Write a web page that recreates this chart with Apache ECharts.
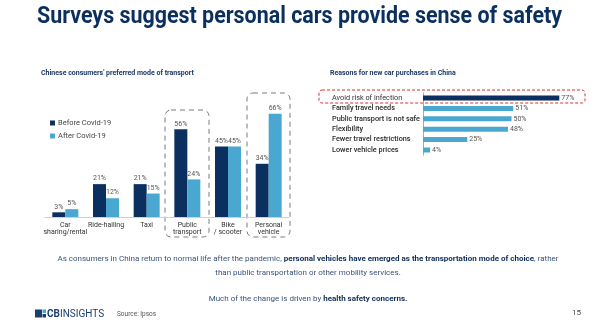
<!DOCTYPE html>
<html><head><meta charset="utf-8">
<script src="https://cdn.jsdelivr.net/npm/echarts@6/dist/echarts.min.js"></script>
<style>html,body{margin:0;padding:0;background:#fff}#c{width:600px;height:328px}</style>
</head><body><div id="c"></div>
<script>
const modeCategories = ['Car\nsharing/rental','Ride-hailing','Taxi','Public\ntransport','Bike\n/ scooter','Personal\nvehicle'];
const beforeCovid = [3, 21, 21, 56, 45, 34];
const afterCovid = [5, 12, 15, 24, 45, 66];
const reasonCategories = ['Avoid risk of infection','Family travel needs','Public transport is not safe','Flexibility','Fewer travel restrictions','Lower vehicle prices'];
const reasonValues = [77, 51, 50, 48, 25, 4];

const NAVY = '#0b2f5e', LIGHT = '#4aa8d0';
const FONT = 'Roboto';
const chart = echarts.init(document.getElementById('c'), null, {renderer:'canvas'});

const titleText = 'Surveys suggest personal cars provide sense of safety';
const cv = document.createElement('canvas').getContext('2d');
cv.font = 'bold 23px Roboto';
const titleScale = 525 / cv.measureText(titleText).width;

chart.setOption({
  animation: false,
  textStyle: {fontFamily: FONT},
  legend: {
    data: ['Before Covid-19','After Covid-19'], orient: 'vertical', left: 45, top: 114,
    itemWidth: 5, itemHeight: 5, itemGap: 5, icon: 'rect',
    textStyle: {fontSize: 7.5, color: '#444', fontFamily: FONT, padding: [0,0,0,-2]}
  },
  grid: [
    {left: 45, top: 60.5, width: 244, height: 156.5},
    {left: 423, top: 92.8, width: 178.5, height: 62.4}
  ],
  xAxis: [
    {type: 'category', gridIndex: 0, data: modeCategories,
     axisLine: {lineStyle: {color: '#d0d0d0'}}, axisTick: {show: false},
     axisLabel: {interval: 0, fontSize: 7, color: '#333', margin: 4, lineHeight: 7.5, fontFamily: FONT}},
    {type: 'value', gridIndex: 1, min: 0, max: 100, show: false}
  ],
  yAxis: [
    {type: 'value', gridIndex: 0, min: 0, max: 100, show: false},
    {type: 'category', gridIndex: 1, data: reasonCategories, inverse: true,
     axisLine: {lineStyle: {color: '#aaa'}}, axisTick: {show: false},
     axisLabel: {interval: 0, hideOverlap: false, align: 'left', margin: 91, fontSize: 7.3, color: '#333', fontFamily: FONT,
       formatter: (v, i) => i === 0 ? '{n|' + v + '}' : '{b|' + v + '}',
       rich: {n: {fontSize: 7.3, color: '#333', fontFamily: FONT}, b: {fontSize: 7.3, color: '#2a2a2a', fontWeight: 500, fontFamily: FONT}}}}
  ],
  series: [
    {name: 'Before Covid-19', type: 'bar', xAxisIndex: 0, yAxisIndex: 0, data: beforeCovid,
     barWidth: 13, barGap: '0%', itemStyle: {color: NAVY},
     label: {show: true, position: 'top', distance: 2, formatter: '{c}%', fontSize: 7, color: '#555', fontFamily: FONT}},
    {name: 'After Covid-19', type: 'bar', xAxisIndex: 0, yAxisIndex: 0, data: afterCovid,
     barWidth: 13, barGap: '0%', itemStyle: {color: LIGHT},
     label: {show: true, position: 'top', distance: 2, formatter: '{c}%', fontSize: 7, color: '#555', fontFamily: FONT}},
    {name: 'Reasons', type: 'bar', xAxisIndex: 1, yAxisIndex: 1,
     data: reasonValues.map((v, i) => ({value: v, itemStyle: {color: i === 0 ? NAVY : LIGHT}})),
     barWidth: 5,
     label: {show: true, position: 'right', distance: 2, formatter: '{c}%', fontSize: 7, color: '#555', fontFamily: FONT}}
  ],
  graphic: [
    {type: 'text', left: 37, top: 6, scaleX: titleScale, originX: 0,
     style: {text: titleText, font: 'bold 23px Roboto', fill: NAVY}},
    {type: 'text', left: 41, top: 70, style: {text: "Chinese consumers' preferred mode of transport", font: 'bold 7px Roboto', fill: '#1c3a66'}},
    {type: 'text', left: 330, top: 70, style: {text: 'Reasons for new car purchases in China', font: 'bold 7px Roboto', fill: '#1c3a66'}},
    {type: 'rect', shape: {x: 165, y: 110, width: 44, height: 127, r: 6}, style: {fill: 'none', stroke: '#7a7a7a', lineWidth: 1, lineDash: [5, 4]}},
    {type: 'rect', shape: {x: 247, y: 93, width: 43, height: 144, r: 6}, style: {fill: 'none', stroke: '#7a7a7a', lineWidth: 1, lineDash: [5, 4]}},
    {type: 'rect', shape: {x: 319, y: 90, width: 266, height: 13, r: 3}, style: {fill: 'none', stroke: '#d6322f', lineWidth: 1, lineDash: [3, 2]}},
    {type: 'text', x: 308, y: 259, style: {
      text: 'As consumers in China return to normal life after the pandemic, {b|personal vehicles have emerged as the transportation mode of choice}, rather',
      align: 'center', verticalAlign: 'middle', font: '8px Roboto', fill: '#3b5478',
      rich: {b: {fontWeight: 'bold', fontSize: 8, fontFamily: FONT, fill: '#0e2d58'}}}},
    {type: 'text', x: 308, y: 273, style: {text: 'than public transportation or other mobility services.', align: 'center', verticalAlign: 'middle', font: '8px Roboto', fill: '#3b5478'}},
    {type: 'text', x: 308, y: 299, style: {
      text: 'Much of the change is driven by {b|health safety concerns.}',
      align: 'center', verticalAlign: 'middle', font: '8px Roboto', fill: '#3b5478',
      rich: {b: {fontWeight: 'bold', fontSize: 8, fontFamily: FONT, fill: '#0e2d58'}}}},
    {type: 'rect', shape: {x: 35, y: 309.5, width: 7, height: 8}, style: {fill: '#1c3f6e'}},
    {type: 'rect', shape: {x: 42.5, y: 309.5, width: 3.5, height: 3.5}, style: {fill: '#4aa8d0'}},
    {type: 'rect', shape: {x: 42.5, y: 314, width: 3.5, height: 3.5}, style: {fill: '#1c3f6e'}},
    {type: 'text', x: 47, y: 314, style: {text: '{b|CB}INSIGHTS', verticalAlign: 'middle', font: '10px Roboto', fill: '#1c3f6e',
      rich: {b: {fontWeight: 'bold', fontSize: 10, fontFamily: FONT, fill: '#1c3f6e'}}}},
    {type: 'text', x: 117, y: 314, style: {text: 'Source: Ipsos', verticalAlign: 'middle', font: '6.5px Roboto', fill: '#555'}},
    {type: 'text', x: 572, y: 313, style: {text: '15', verticalAlign: 'middle', font: '8px Roboto', fill: '#444'}}
  ]
});
</script></body></html>
